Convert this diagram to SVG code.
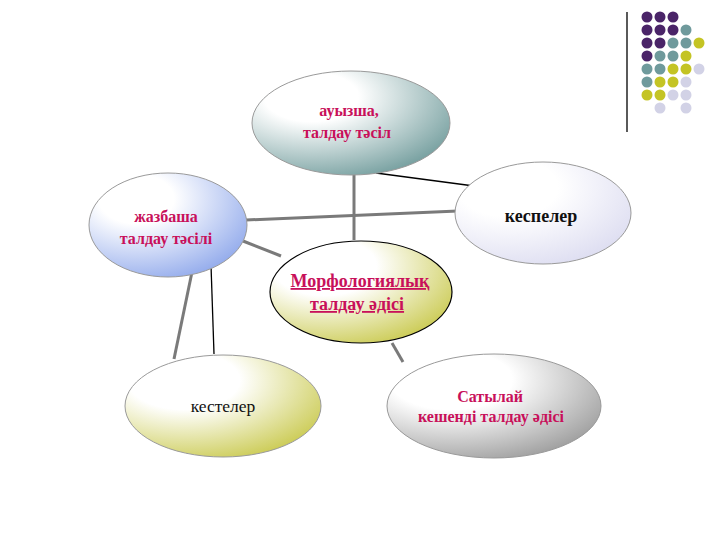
<svg xmlns="http://www.w3.org/2000/svg" width="720" height="540" viewBox="0 0 720 540">
<style>
.lbl{font-family:"Liberation Serif","Times New Roman",serif;font-size:16px;font-weight:bold;text-anchor:middle}
.big{font-size:18px}
.red{fill:#c8105a}
.blk{fill:#111}
.gray{stroke:#7a7a7a;stroke-width:3;fill:none}
.thin{stroke:#000;stroke-width:1.3;fill:none}
.ell{stroke:#9a9a9a;stroke-width:1}
.dp{fill:#4a2468}.dt{fill:#6f9a9c}.dy{fill:#c4c424}.dl{fill:#d2d2e6}
</style>
<defs>
<radialGradient id="gTeal" cx="0.3" cy="0.25" r="0.95" fx="0.3" fy="0.25"><stop offset="0.25" stop-color="#ffffff"/><stop offset="1" stop-color="#5a8c8c"/></radialGradient>
<radialGradient id="gBlue" cx="0.3" cy="0.25" r="0.95" fx="0.3" fy="0.25"><stop offset="0.25" stop-color="#ffffff"/><stop offset="1" stop-color="#7d9ae8"/></radialGradient>
<radialGradient id="gLav" cx="0.3" cy="0.25" r="0.95" fx="0.3" fy="0.25"><stop offset="0.3" stop-color="#ffffff"/><stop offset="1" stop-color="#d6d6ee"/></radialGradient>
<radialGradient id="gYel" cx="0.3" cy="0.25" r="0.95" fx="0.3" fy="0.25"><stop offset="0.3" stop-color="#ffffff"/><stop offset="1" stop-color="#c0c030"/></radialGradient>
<radialGradient id="gGray" cx="0.3" cy="0.25" r="0.95" fx="0.3" fy="0.25"><stop offset="0.3" stop-color="#ffffff"/><stop offset="1" stop-color="#8a8a8a"/></radialGradient>
</defs>
<rect width="720" height="540" fill="#fff"/>
<g id="decor">
<line x1="627" y1="12" x2="627" y2="132" stroke="#000" stroke-width="1.3"/>
<g>
<circle class="dp" cx="647" cy="17" r="5.5"/><circle class="dp" cx="660" cy="17" r="5.5"/><circle class="dp" cx="673" cy="17" r="5.5"/>
<circle class="dp" cx="647" cy="30" r="5.5"/><circle class="dp" cx="660" cy="30" r="5.5"/><circle class="dp" cx="673" cy="30" r="5.5"/><circle class="dt" cx="686" cy="30" r="5.5"/>
<circle class="dp" cx="647" cy="43" r="5.5"/><circle class="dp" cx="660" cy="43" r="5.5"/><circle class="dt" cx="673" cy="43" r="5.5"/><circle class="dt" cx="686" cy="43" r="5.5"/><circle class="dy" cx="699" cy="43" r="5.5"/>
<circle class="dp" cx="647" cy="56" r="5.5"/><circle class="dt" cx="660" cy="56" r="5.5"/><circle class="dt" cx="673" cy="56" r="5.5"/><circle class="dy" cx="686" cy="56" r="5.5"/>
<circle class="dt" cx="647" cy="69" r="5.5"/><circle class="dt" cx="660" cy="69" r="5.5"/><circle class="dy" cx="673" cy="69" r="5.5"/><circle class="dy" cx="686" cy="69" r="5.5"/><circle class="dl" cx="699" cy="69" r="5.5"/>
<circle class="dt" cx="647" cy="82" r="5.5"/><circle class="dy" cx="660" cy="82" r="5.5"/><circle class="dy" cx="673" cy="82" r="5.5"/><circle class="dl" cx="686" cy="82" r="5.5"/>
<circle class="dy" cx="647" cy="95" r="5.5"/><circle class="dy" cx="660" cy="95" r="5.5"/><circle class="dl" cx="673" cy="95" r="5.5"/><circle class="dl" cx="686" cy="95" r="5.5"/>
<circle class="dl" cx="660" cy="108" r="5.5"/><circle class="dl" cx="686" cy="108" r="5.5"/>
</g>
</g>
<g id="connectors">
<line class="gray" x1="354" y1="172" x2="354" y2="240"/>
<line class="thin" x1="376" y1="173" x2="474" y2="186"/>
<line class="gray" x1="246" y1="220" x2="458" y2="211"/>
<line class="gray" x1="243" y1="241" x2="281" y2="256"/>
<line class="gray" x1="192" y1="272" x2="174" y2="359"/>
<line class="thin" x1="211" y1="265" x2="214" y2="354"/>
<line class="gray" x1="392" y1="343" x2="403" y2="362"/>
</g>
<g id="n-oral">
<ellipse class="ell" cx="351" cy="123" rx="99" ry="52" fill="url(#gTeal)"/>
<text class="lbl red" x="349" y="116">ауызша,</text>
<text class="lbl red" x="347" y="138">талдау тәсіл</text>
</g>
<g id="n-written">
<ellipse class="ell" cx="168" cy="225" rx="79" ry="52" fill="url(#gBlue)"/>
<text class="lbl red" x="166" y="222">жазбаша</text>
<text class="lbl red" x="166" y="244">талдау тәсілі</text>
</g>
<g id="n-kespeler">
<ellipse class="ell" cx="543" cy="213" rx="88" ry="51" fill="url(#gLav)" stroke="#dcdcdc"/>
<text class="lbl big blk" x="541" y="222">кеспелер</text>
</g>
<g id="n-center">
<ellipse cx="361" cy="292" rx="91" ry="51" fill="url(#gYel)" stroke="#000" stroke-width="1.2"/>
<text class="lbl big red" x="360" y="287" text-decoration="underline">Морфологиялық</text>
<text class="lbl big red" x="357" y="310" text-decoration="underline">талдау әдісі</text>
</g>
<g id="n-kesteler">
<ellipse class="ell" cx="223" cy="406" rx="98" ry="51" fill="url(#gYel)" stroke="#c8c890"/>
<text class="lbl blk" x="223" y="412" style="font-size:17.5px;font-weight:normal">кестелер</text>
</g>
<g id="n-stepwise">
<ellipse class="ell" cx="494" cy="406" rx="107" ry="52" fill="url(#gGray)" stroke="#888"/>
<text class="lbl red" x="490" y="402">Сатылай</text>
<text class="lbl red" x="491" y="422">кешенді талдау әдісі</text>
</g>
</svg>
